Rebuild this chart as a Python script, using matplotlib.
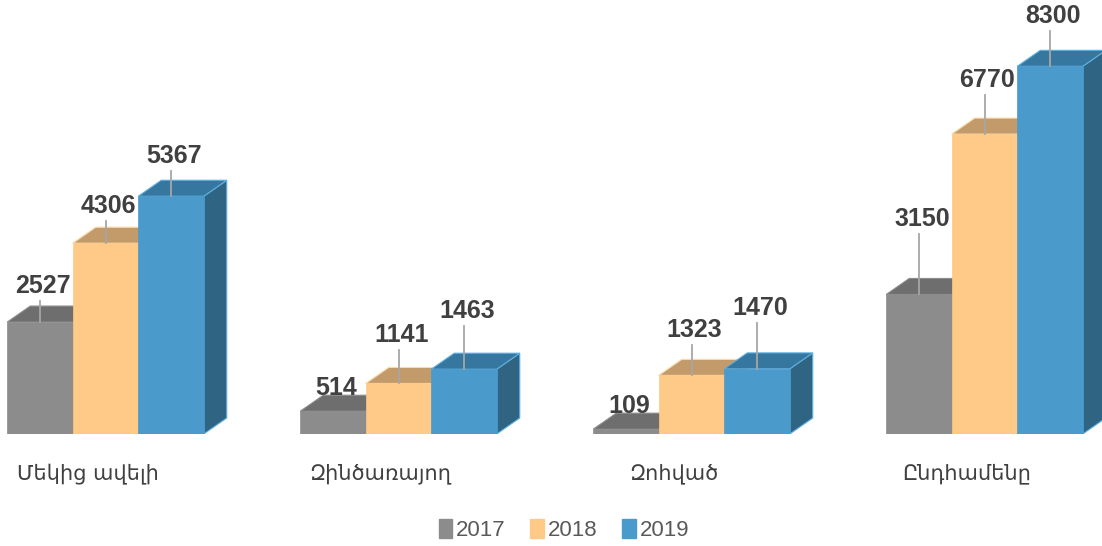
import matplotlib.pyplot as plt
from matplotlib.patches import Polygon, Patch

categories = ["Մեկից ավելի", "Զինծառայող", "Զոհված", "Ընդհամենը"]
years = ["2017", "2018", "2019"]
v2017 = [2527, 514, 109, 3150]
v2018 = [4306, 1141, 1323, 6770]
v2019 = [5367, 1463, 1470, 8300]

# front, top, side colours per year
front = ["#8c8c8c", "#ffc987", "#4a9acb"]
top = ["#6e6e6e", "#c39b6a", "#3677a0"]
side = ["#5f5f5f", "#b08a5c", "#2f6482"]
edge = ["#8c8c8c", "#ffd9a8", "#5db0e2"]

# leader line length (px) for each label, by year then category
leader_px = [[21, 0, 0, 60], [22, 33, 30, 39], [25, 43, 46, 35]]

W, H = 1102, 546
px_x = 293.0        # pixels per group
px_y = 0.0443       # pixels per unit value
base = 112          # baseline, pixels from bottom
fig = plt.figure(figsize=(W / 100, H / 100), dpi=100)
ax = fig.add_axes([0, base / H, 1, 1 - base / H])
ax.set_xlim(-105.5 / px_x, (W - 105.5) / px_x)
ax.set_ylim(0, (H - base) / px_y)
ax.axis("off")

w = 65.5 / px_x
dx = 23 / px_x
dy = 16 / px_y

series = [v2017, v2018, v2019]
for g in range(len(categories)):
    for s, vals in enumerate(series):
        v = vals[g]
        x0 = g + (s - 1) * w - w / 2
        x1 = x0 + w
        ax.add_patch(Polygon([(x1, 0), (x1 + dx, dy), (x1 + dx, v + dy), (x1, v)],
                             closed=True, fc=side[s], ec=edge[s], lw=0.8))
        ax.add_patch(Polygon([(x0, v), (x0 + dx, v + dy), (x1 + dx, v + dy), (x1, v)],
                             closed=True, fc=top[s], ec=edge[s], lw=0.8))
        ax.add_patch(Polygon([(x0, 0), (x0, v), (x1, v), (x1, 0)],
                             closed=True, fc=front[s], ec=front[s], lw=0.5))

for g in range(len(categories)):
    for s, vals in enumerate(series):
        v = vals[g]
        xc = g + (s - 1) * w
        L = leader_px[s][g]
        if L > 0:
            ax.plot([xc, xc], [v, v + L / px_y], color="#a6a6a6", lw=1.3, zorder=5)
            gap = 8
        else:
            gap = 16
        ax.text(xc + 0.01, v + (L + gap) / px_y, str(v), ha="center", va="baseline",
                fontsize=18, fontweight="bold", color="#404040",
                family="Liberation Sans", zorder=6)

for g, c in enumerate(categories):
    fig.text((105.5 + g * px_x - 18) / W, 1 - 474 / H, c, ha="center", va="center",
             fontsize=15, color="#404040", family="DejaVu Sans")

handles = [Patch(color=front[i], label=years[i]) for i in range(3)]
fig.legend(handles=handles, loc="center", bbox_to_anchor=(564 / W, 1 - 530 / H),
           ncol=3, frameon=False, handlelength=0.6, handleheight=0.9,
           handletextpad=0.2, columnspacing=1.1,
           prop={"family": "Liberation Sans", "size": 16}, labelcolor="#595959")

plt.savefig("out.png", dpi=100)
